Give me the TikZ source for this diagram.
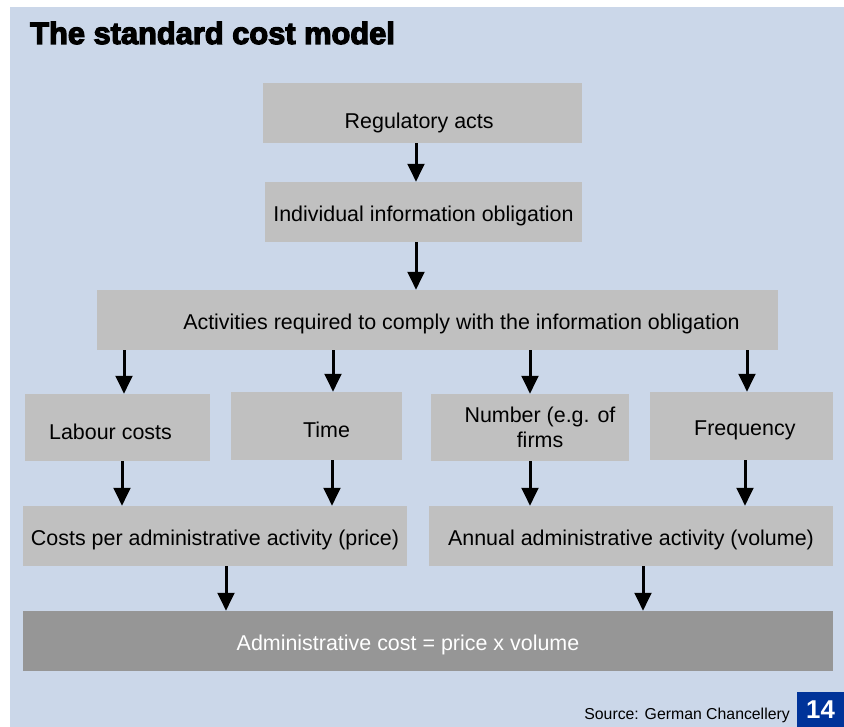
\documentclass[tikz,border=0pt]{standalone}
\usepackage{fontspec}
\setmainfont{Liberation Sans}
\newfontfamily\titlefont[FakeBold=4]{Liberation Sans Bold}
\usetikzlibrary{arrows.meta}
\definecolor{slidebg}{HTML}{CBD7E9}
\definecolor{boxgray}{HTML}{C0C0C0}
\definecolor{darkgray}{HTML}{969696}
\definecolor{pageblue}{HTML}{003399}
\tikzset{
  grbox/.style={fill=boxgray, inner sep=0pt, align=center,
    font=\fontsize{18.3}{21.3}\selectfont},
  oneline/.style={text height=7mm},
  arr/.style={line width=0.9mm, -{Triangle[width=5mm,length=5.4mm]}}
}
\begin{document}
\begin{tikzpicture}[x=0.3mm, y=-0.3mm]
  \useasboundingbox (0,0) rectangle (844,727);

  % Background of the slide
  \fill [slidebg] (10,7) rectangle (844,727);
  \node [anchor=base west, inner sep=0pt, font=\titlefont\fontsize{26.3}{28}\selectfont] (title) at (30,44) {The standard cost model};

  % Upper chain
  \node [grbox, minimum width=95.7mm, minimum height=18mm, text height=10.8mm] (reg) at (422.5,113) {Regulatory acts\hspace*{2mm}};
  \node [grbox, oneline, minimum width=95.1mm, minimum height=18mm] (ind) at (423.5,212) {Individual information obligation};
  \node [grbox, oneline, minimum width=204.3mm, minimum height=18mm] (act) at (437.5,320) {\hspace*{14.4mm}Activities required to comply with the information obligation};

  % Four factors
  \node [grbox, oneline, minimum width=55.5mm, minimum height=20.1mm] (lab) at (117.5,427.5) {Labour costs\hspace*{4.2mm}};
  \node [grbox, oneline, minimum width=51.3mm, minimum height=20.4mm] (tim) at (316.5,426) {\hspace*{6mm}Time};
  \node [grbox, minimum width=59.4mm, minimum height=20.1mm] (num) at (530,427.5) {\hspace*{6mm}Number (e.g. of\\\hspace*{6mm}firms};
  \node [grbox, oneline, minimum width=54.9mm, minimum height=20.4mm] (frq) at (741.5,426) {\hspace*{2mm}Frequency};

  % Price and volume
  \node [grbox, oneline, minimum width=115.2mm, minimum height=18mm] (cst) at (215,536) {Costs per administrative activity (price)};
  \node [grbox, oneline, minimum width=121.2mm, minimum height=18mm] (ann) at (631,536) {Annual administrative activity (volume)};

  % Result
  \node [grbox, oneline, fill=darkgray, text=white, minimum width=243mm, minimum height=18mm] (adm) at (428,641) {\hspace*{-12mm}Administrative cost = price x volume};

  % Arrows
  \foreach \a/\b/\x in {reg/ind/416, ind/act/416, act/lab/124, act/tim/333, act/num/530, act/frq/747,
                        lab/cst/122, tim/cst/332, num/ann/530, frq/ann/745, cst/adm/226, ann/adm/643}
  {
    \coordinate (ax) at (\x,0);
    \draw [arr] (ax |- \a.south) -- (ax |- \b.north);
  }

  % Footer
  \node [anchor=east, inner sep=0pt, font=\fontsize{13.5}{15}\selectfont] (src) at (790,715) {Source: German Chancellery};
  \node [fill=pageblue, text=white, font=\bfseries\fontsize{22}{24}\selectfont, inner sep=0pt,
         minimum width=14.1mm, minimum height=10.5mm] (page) at (820.5,709.5) {14};
\end{tikzpicture}
\end{document}
